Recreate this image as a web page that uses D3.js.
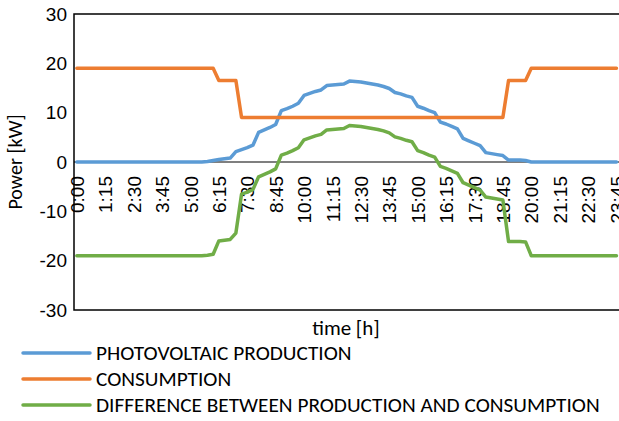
<!DOCTYPE html>
<html>
<head>
<meta charset="utf-8">
<script src="https://cdn.jsdelivr.net/npm/d3@7"></script>
<style>
  html, body { margin: 0; padding: 0; background: #fff; }
  svg { display: block; font-family: Carlito, Lato, "Open Sans", sans-serif; }
</style>
</head>
<body>
<svg id="chart" width="619" height="421"></svg>
<script>
// Quarter-hour time slots over one day
const times = d3.range(96).map(i => `${Math.floor(i / 4)}:${String((i % 4) * 15).padStart(2, "0")}`);
const tickLabels = times.filter((t, i) => i % 5 === 0);
const yTicks = [-30, -20, -10, 0, 10, 20, 30];

// Power values in kW per quarter hour
const photovoltaic = [
  0, 0, 0, 0, 0, 0, 0, 0, 0, 0, 0, 0, 0, 0, 0, 0, 0, 0, 0, 0, 0, 0, 0,
  0.1, 0.3, 0.5, 0.65, 0.8,
  2.1, 2.5, 2.9, 3.4,
  6.0, 6.5, 7.0, 7.6,
  10.4, 10.8, 11.3, 11.9,
  13.5, 13.9, 14.3, 14.6,
  15.5, 15.6, 15.7, 15.8,
  16.4, 16.3, 16.2, 16.0,
  15.8, 15.6, 15.3, 14.9,
  14.1, 13.8, 13.4, 13.1,
  11.3, 10.9, 10.4, 10.0,
  8.1, 7.7, 7.2, 6.7,
  4.8, 4.3, 3.8, 3.3,
  1.9, 1.7, 1.5, 1.3,
  0.4, 0.4, 0.4, 0.3,
  0, 0, 0, 0, 0, 0, 0, 0, 0, 0, 0, 0, 0, 0, 0, 0
];

const consumption = [
  19, 19, 19, 19, 19, 19, 19, 19, 19, 19, 19, 19, 19, 19, 19, 19, 19, 19, 19, 19, 19, 19, 19, 19, 19,
  16.5, 16.5, 16.5, 16.5,
  9, 9, 9, 9, 9, 9, 9, 9, 9, 9, 9, 9, 9, 9, 9, 9, 9, 9, 9, 9, 9, 9, 9, 9,
  9, 9, 9, 9, 9, 9, 9, 9, 9, 9, 9, 9, 9, 9, 9, 9, 9, 9, 9, 9, 9, 9, 9,
  16.5, 16.5, 16.5, 16.5,
  19, 19, 19, 19, 19, 19, 19, 19, 19, 19, 19, 19, 19, 19, 19, 19
];

const difference = [
  -19, -19, -19, -19, -19, -19, -19, -19, -19, -19, -19, -19, -19, -19, -19, -19, -19, -19, -19, -19, -19, -19, -19,
  -18.9, -18.7, -16.0, -15.85, -15.7, -14.4,
  -6.5, -6.1, -5.6,
  -3.0, -2.5, -2.0, -1.4,
  1.4, 1.8, 2.3, 2.9,
  4.5, 4.9, 5.3, 5.6,
  6.5, 6.6, 6.7, 6.8,
  7.4, 7.3, 7.2, 7.0,
  6.8, 6.6, 6.3, 5.9,
  5.1, 4.8, 4.4, 4.1,
  2.3, 1.9, 1.4, 1.0,
  -0.9, -1.3, -1.8, -2.3,
  -4.2, -4.7, -5.2, -5.7,
  -7.1, -7.3, -7.5, -7.7,
  -16.1, -16.1, -16.1, -16.2,
  -19, -19, -19, -19, -19, -19, -19, -19, -19, -19, -19, -19, -19, -19, -19, -19
];

const seriesNames = ["PHOTOVOLTAIC PRODUCTION", "CONSUMPTION", "DIFFERENCE BETWEEN PRODUCTION AND CONSUMPTION"];
const seriesColors = ["#5B9BD5", "#ED7D31", "#70AD47"];
const seriesValues = [photovoltaic, consumption, difference];

const svg = d3.select("#chart");
const plot = { left: 74, right: 619.3, top: 14, bottom: 310 };

const x = d3.scalePoint().domain(times).range([plot.left, plot.right]).padding(0.5);
const y = d3.scaleLinear().domain([-30, 30]).range([plot.bottom, plot.top]);

// Plot area frame
svg.append("rect")
  .attr("x", plot.left).attr("y", plot.top)
  .attr("width", 640 - plot.left).attr("height", plot.bottom - plot.top)
  .attr("fill", "none").attr("stroke", "#000").attr("stroke-width", 1.5);

// Value axis (plain hyphen for negatives)
const yAxis = svg.append("g")
  .attr("transform", `translate(${plot.left},0)`)
  .call(d3.axisLeft(y).tickValues(yTicks).tickFormat(d => String(d)).tickSize(0).tickPadding(7));
yAxis.select(".domain").remove();
yAxis.selectAll("text").attr("font-size", 19).attr("fill", "#000").attr("font-family", null);

// Category axis crossing at zero
const xAxis = svg.append("g")
  .attr("transform", `translate(0,${y(0)})`)
  .call(d3.axisBottom(x).tickValues(tickLabels).tickSize(0));
xAxis.select(".domain").attr("stroke", "#000").attr("stroke-width", 1.2)
  .attr("d", `M${plot.left},0H640`);
xAxis.selectAll(".tick text")
  .attr("font-size", 19).attr("fill", "#000").attr("font-family", null)
  .attr("text-anchor", "end")
  .attr("transform", "rotate(-90)")
  .attr("x", -14).attr("y", 0).attr("dy", "0.35em");

// Series lines
const line = d3.line().x((d, i) => x(times[i])).y(d => y(d));
seriesValues.forEach((vals, k) => {
  svg.append("path")
    .datum(vals)
    .attr("d", line)
    .attr("fill", "none")
    .attr("stroke", seriesColors[k])
    .attr("stroke-width", 3.5)
    .attr("stroke-linejoin", "round")
    .attr("stroke-linecap", "round");
});

// Axis titles
svg.append("text")
  .attr("transform", `translate(22,${y(0)}) rotate(-90)`)
  .attr("text-anchor", "middle")
  .attr("font-size", 20)
  .text("Power [kW]");

svg.append("text")
  .attr("x", 346).attr("y", 335)
  .attr("text-anchor", "middle")
  .attr("font-size", 21)
  .text("time [h]");

// Legend
const legend = svg.append("g");
seriesNames.forEach((name, k) => {
  const ly = 353 + k * 26;
  legend.append("line")
    .attr("x1", 23).attr("x2", 90).attr("y1", ly).attr("y2", ly)
    .attr("stroke", seriesColors[k]).attr("stroke-width", 3.5).attr("stroke-linecap", "round");
  legend.append("text")
    .attr("x", 96).attr("y", ly).attr("dy", "0.35em")
    .attr("font-size", 21.3)
    .text(name);
});
</script>
</body>
</html>
